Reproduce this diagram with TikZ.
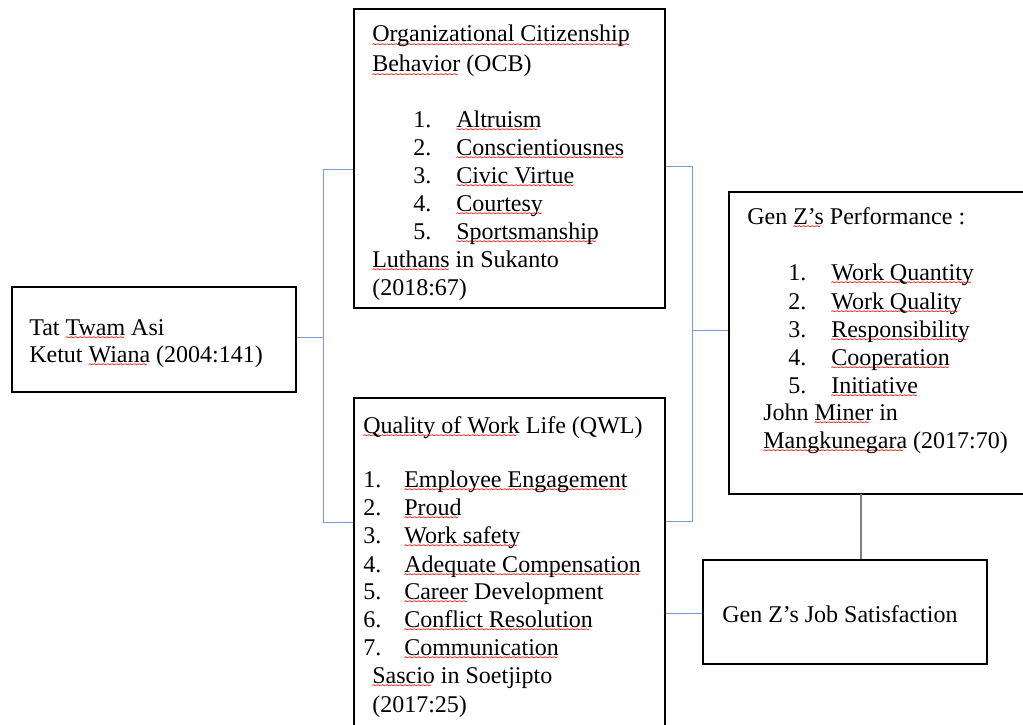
\documentclass[tikz,border=0pt]{standalone}
\usepackage{fontspec}
\usepackage{graphicx}
\setmainfont{Liberation Serif}
\newfontfamily\wavefont{DejaVu Sans}
\usetikzlibrary{fit}
\definecolor{linkblue}{RGB}{122,154,214}
\definecolor{linkgray}{RGB}{128,128,128}
\definecolor{squig}{RGB}{222,40,30}
\newcommand\wavechar{\hbox{\scalebox{0.6}[1]{\wavefont\fontsize{9}{9}\selectfont\kern-0.95pt∼\kern-0.95pt}}}
\newcommand\redwave[1]{\setbox0=\hbox{#1}\rlap{\smash{\lower5pt\hbox to\wd0{\color{squig}\leaders\wavechar\hfill}}}\box0\relax}
\begin{document}
\begin{tikzpicture}[x=0.75pt,y=-0.75pt,
  box/.style={draw=black,line width=2pt,inner sep=0pt},
  txt/.style={anchor=base west,inner sep=0pt,font=\fontsize{18}{21}\selectfont},
  link/.style={draw=linkblue,line width=0.8pt},
  vlink/.style={draw=linkgray,line width=1.1pt}]
\useasboundingbox (0,0) rectangle (1023,724);
\clip (0,0) rectangle (1023,724);

% boxes
\node[box,fit={(12,287) (296,392)}] (tat) {};
\node[box,fit={(354,9) (665,308)}] (ocb) {};
\node[box,fit={(354,398) (665,740)}] (qwl) {};
\node[box,fit={(729,192) (1040,494)}] (perf) {};
\node[box,fit={(703,560) (987,664)}] (job) {};

% junction coordinates
\coordinate (lt) at (323.5,169.5);
\coordinate (lm) at (323.5,337.5);
\coordinate (lb) at (323.5,522.5);
\coordinate (rt) at (692.5,166.5);
\coordinate (rb) at (692.5,521.5);
\coordinate (rm) at (692.5,330.5);
\coordinate (pj) at (861,494);
\coordinate (qj) at (700,613.5);

% connectors
\draw[link] (ocb.west |- lt) -- (lt) -- (lb) -- (qwl.west |- lb);
\draw[link] (tat.east |- lm) -- (lm);
\draw[link] (ocb.east |- rt) -- (rt) -- (rb) -- (qwl.east |- rb);
\draw[link] (rm) -- (perf.west |- rm);
\draw[link] (qwl.east |- qj) -- (job.west |- qj);
\draw[vlink] (pj) -- (pj |- job.north);

% Tat Twam Asi
\node[txt] (tat1) at (29,335) {Tat \redwave{Twam} Asi};
\node[txt] (tat2) at (29,362) {Ketut \redwave{Wiana} (2004:141)};

% OCB
\node[txt] (ocbt1) at (372,42) {\redwave{Organizational Citizenship}};
\node[txt] (ocbt2) at (372,72) {\redwave{Behavior} (OCB)};
\node[txt] (ocbn1) at (413,127) {1.};
\node[txt] (ocbi1) at (456,127) {\redwave{Altruism}};
\node[txt] (ocbn2) at (413,155) {2.};
\node[txt] (ocbi2) at (456,155) {\redwave{Conscientiousnes}};
\node[txt] (ocbn3) at (413,183) {3.};
\node[txt] (ocbi3) at (456,183) {\redwave{Civic Virtue}};
\node[txt] (ocbn4) at (413,211) {4.};
\node[txt] (ocbi4) at (456,211) {\redwave{Courtesy}};
\node[txt] (ocbn5) at (413,239) {5.};
\node[txt] (ocbi5) at (456,239) {\redwave{Sportsmanship}};
\node[txt] (ocbs1) at (372,267) {\redwave{Luthans} in Sukanto};
\node[txt] (ocbs2) at (372,295) {(2018:67)};

% QWL
\node[txt] (qwlt) at (363,433) {\redwave{Quality of Work} Life (QWL)};
\node[txt] (qwln1) at (363,487) {1.};
\node[txt] (qwli1) at (404,487) {\redwave{Employee Engagement}};
\node[txt] (qwln2) at (363,515) {2.};
\node[txt] (qwli2) at (404,515) {\redwave{Proud}};
\node[txt] (qwln3) at (363,543) {3.};
\node[txt] (qwli3) at (404,543) {\redwave{Work safety}};
\node[txt] (qwln4) at (363,572) {4.};
\node[txt] (qwli4) at (404,572) {\redwave{Adequate Compensation}};
\node[txt] (qwln5) at (363,599) {5.};
\node[txt] (qwli5) at (404,599) {\redwave{Career} Development};
\node[txt] (qwln6) at (363,627) {6.};
\node[txt] (qwli6) at (404,627) {\redwave{Conflict Resolution}};
\node[txt] (qwln7) at (363,655) {7.};
\node[txt] (qwli7) at (404,655) {\redwave{Communication}};
\node[txt] (qwls1) at (372,683) {\redwave{Sascio} in Soetjipto};
\node[txt] (qwls2) at (372,712) {(2017:25)};

% Performance
\node[txt] (perft) at (747,224) {Gen \redwave{Z’s} Performance :};
\node[txt] (perfn1) at (788,280) {1.};
\node[txt] (perfi1) at (831,280) {\redwave{Work Quantity}};
\node[txt] (perfn2) at (788,309) {2.};
\node[txt] (perfi2) at (831,309) {\redwave{Work Quality}};
\node[txt] (perfn3) at (788,337) {3.};
\node[txt] (perfi3) at (831,337) {\redwave{Responsibility}};
\node[txt] (perfn4) at (788,365) {4.};
\node[txt] (perfi4) at (831,365) {\redwave{Cooperation}};
\node[txt] (perfn5) at (788,393) {5.};
\node[txt] (perfi5) at (831,393) {\redwave{Initiative}};
\node[txt] (perfs1) at (763,420) {John \redwave{Miner} in};
\node[txt] (perfs2) at (763,448) {\redwave{Mangkunegara} (2017:70)};

% Job satisfaction
\node[txt] (jobt) at (722,622) {Gen Z’s Job Satisfaction};
\end{tikzpicture}
\end{document}
